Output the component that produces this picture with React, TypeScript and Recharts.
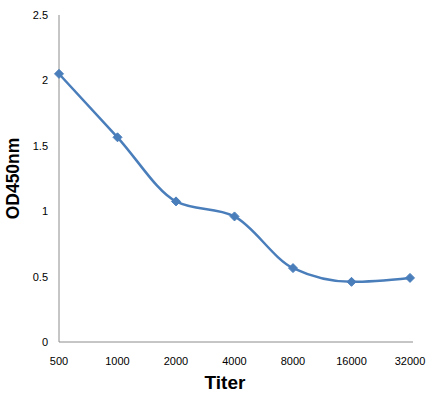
import { LineChart, Line, XAxis, YAxis, Label } from 'recharts';

const titers = ['500', '1000', '2000', '4000', '8000', '16000', '32000'];
const od450 = [2.05, 1.565, 1.075, 0.96, 0.565, 0.46, 0.49];
const yTicks = [0, 0.5, 1, 1.5, 2, 2.5];

const data = titers.map((t, i) => ({ titer: t, od: od450[i] }));

const Diamond = (props: any) => {
    const { cx, cy } = props;
    if (cx == null || cy == null) return null;
    const r = 4.5;
    return (
        <path
            d={`M${cx},${cy - r}L${cx + r},${cy}L${cx},${cy + r}L${cx - r},${cy}Z`}
            fill="#4a7ebb"
            stroke="#4a7ebb"
        />
    );
};

const font = '"Liberation Sans", Arial, sans-serif';

export default function App() {
    return (
        <div style={{ position: 'absolute', left: 0, top: 0, width: 431, height: 399, background: '#fff' }}>
            <LineChart width={431} height={399} data={data} margin={{ top: 15, right: 18, left: 0, bottom: 27 }}>
                <XAxis
                    dataKey="titer"
                    height={30}
                    padding={{ left: 0, right: 3 }}
                    stroke="#8c8c8c"
                    tickLine={false}
                    tickMargin={9}
                    tick={{ fill: '#000', fontSize: 11, fontFamily: font }}
                >
                    <Label
                        content={(p: any) => {
                            const vb = p.viewBox;
                            return (
                                <text
                                    x={vb.x + vb.width / 2 - 11}
                                    y={389}
                                    textAnchor="middle"
                                    fontFamily={font}
                                    fontWeight="bold"
                                    fontSize={19}
                                    fill="#000"
                                >
                                    Titer
                                </text>
                            );
                        }}
                    />
                </XAxis>
                <YAxis
                    width={59}
                    domain={[0, 2.5]}
                    ticks={yTicks}
                    stroke="#8c8c8c"
                    tickLine={false}
                    tickMargin={5}
                    tick={{ fill: '#000', fontSize: 11, fontFamily: font }}
                >
                    <Label
                        content={(p: any) => {
                            const vb = p.viewBox;
                            const cy = vb.y + vb.height / 2;
                            return (
                                <text
                                    x={13}
                                    y={cy}
                                    transform={`rotate(-90 13 ${cy})`}
                                    textAnchor="middle"
                                    dominantBaseline="central"
                                    fontFamily={font}
                                    fontWeight="bold"
                                    fontSize={17.5}
                                    fill="#000"
                                >
                                    OD450nm
                                </text>
                            );
                        }}
                    />
                </YAxis>
                <Line
                    type="monotone"
                    dataKey="od"
                    stroke="#4a7ebb"
                    strokeWidth={2.5}
                    dot={<Diamond />}
                    activeDot={false}
                    isAnimationActive={false}
                />
            </LineChart>
        </div>
    );
}
